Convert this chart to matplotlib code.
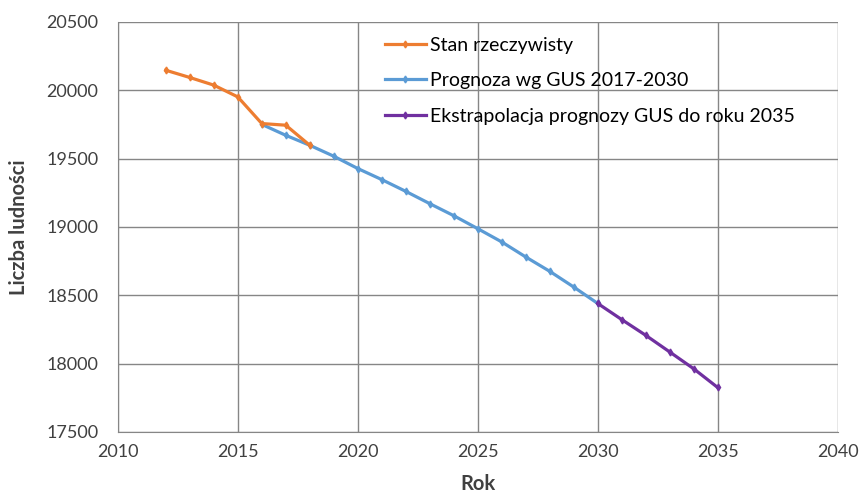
import matplotlib.pyplot as plt

plt.rcParams['font.family'] = ['Lato', 'DejaVu Sans']

# stan rzeczywisty
years_real = [2012, 2013, 2014, 2015, 2016, 2017, 2018]
pop_real = [20146, 20093, 20037, 19951, 19756, 19744, 19597]

# prognoza GUS
years_gus = list(range(2016, 2031))
pop_gus = [19750, 19670, 19597, 19517, 19427, 19346, 19260, 19170,
           19082, 18987, 18890, 18780, 18675, 18560, 18440]

# ekstrapolacja do 2035
years_ext = [2030, 2031, 2032, 2033, 2034, 2035]
pop_ext = [18440, 18322, 18207, 18085, 17962, 17825]

fig = plt.figure(figsize=(8.6, 4.97), dpi=100)
ax = fig.add_axes([0.137, 0.131, 0.837, 0.825])

ax.plot(years_gus, pop_gus, color='#5B9BD5', lw=2.3, marker='d', ms=3.5,
        label='Prognoza wg GUS 2017-2030', zorder=3)
ax.plot(years_real, pop_real, color='#ED7D31', lw=2.3, marker='d', ms=3.5,
        label='Stan rzeczywisty', zorder=4)
ax.plot(years_ext, pop_ext, color='#7030A0', lw=2.3, marker='d', ms=3.5,
        label='Ekstrapolacja prognozy GUS do roku 2035', zorder=3)

ax.set_xlim(2010, 2040)
ax.set_ylim(17500, 20500)
ax.set_xticks(range(2010, 2041, 5))
ax.set_yticks(range(17500, 20501, 500))
ax.grid(True, color='#868686', lw=1)
ax.set_axisbelow(True)
for s in ['top', 'right']:
    ax.spines[s].set_visible(False)
for s in ['left', 'bottom']:
    ax.spines[s].set_color('#868686')
ax.tick_params(colors='#868686', labelcolor='#404040', labelsize=13, length=0)
ax.tick_params(axis='x', pad=9)
ax.tick_params(axis='y', pad=14)

ax.set_xlabel('Rok', fontsize=14.5, fontweight='bold', color='#404040')
ax.set_ylabel('Liczba ludności', fontsize=14.5, fontweight='bold', color='#404040')
ax.xaxis.set_label_coords(0.5, -0.103)
ax.yaxis.set_label_coords(-0.124, 0.5)

h, l = ax.get_legend_handles_labels()
order = [1, 0, 2]
ax.legend([h[i] for i in order], [l[i] for i in order], loc='upper left',
          bbox_to_anchor=(0.371, 0.964), frameon=False, fontsize=14,
          handlelength=2.1, handletextpad=0.2, labelspacing=0.95,
          borderpad=0, borderaxespad=0)

fig.savefig('out.png', dpi=100)
